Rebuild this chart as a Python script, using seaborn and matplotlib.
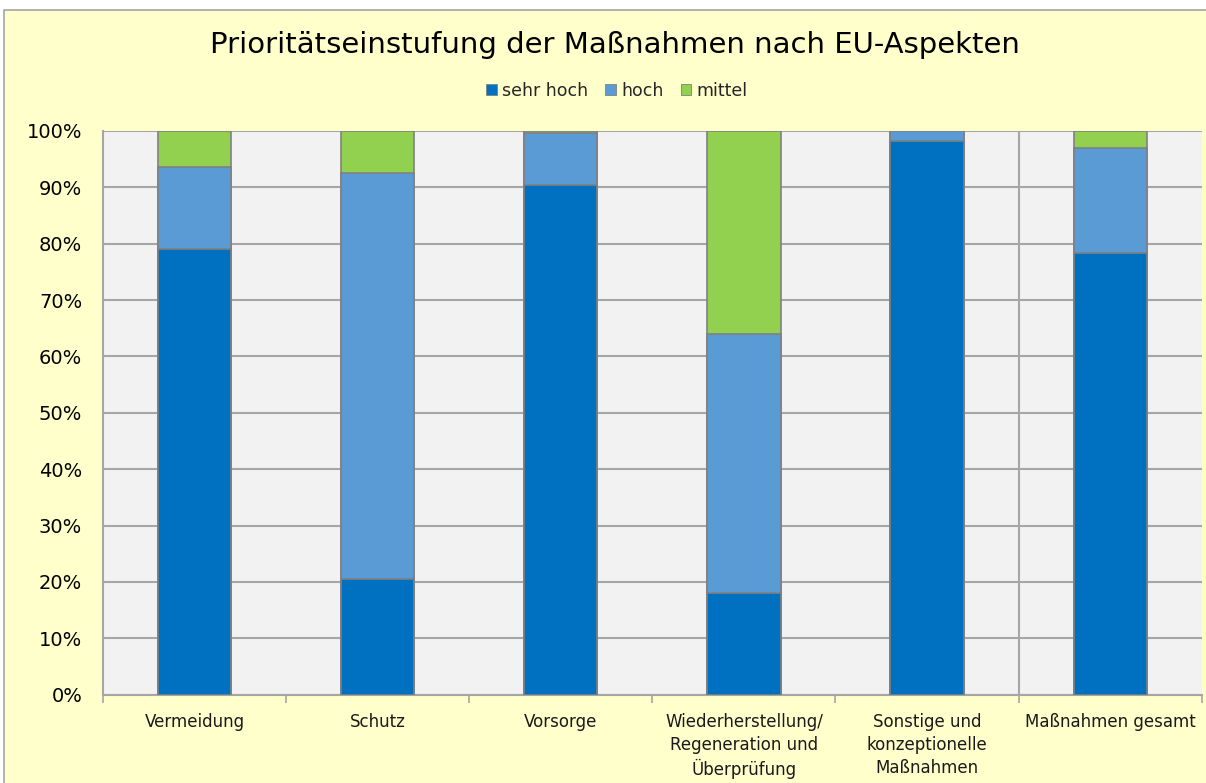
import matplotlib
matplotlib.use("Agg")
import matplotlib.pyplot as plt
from matplotlib.patches import Rectangle, Patch
from matplotlib.ticker import FixedLocator, PercentFormatter
import pandas as pd
import seaborn as sns

categories = [
    "Vermeidung",
    "Schutz",
    "Vorsorge",
    "Wiederherstellung/\nRegeneration und\nÜberprüfung",
    "Sonstige und\nkonzeptionelle\nMaßnahmen",
    "Maßnahmen gesamt",
]
sehr_hoch = [79.1, 20.5, 90.5, 18.1, 98.2, 78.4]
hoch = [14.5, 72.1, 9.2, 45.8, 1.8, 18.5]
mittel = [6.4, 7.4, 0.3, 36.1, 0.0, 3.1]
series_names = ["sehr hoch", "hoch", "mittel"]
series_colors = ["#0070C0", "#5B9BD5", "#92D050"]

sns.set_theme(style="white")
plt.rcParams["font.family"] = ["DejaVu Sans"]

df = pd.DataFrame({
    "Kategorie": categories,
    "sehr hoch": sehr_hoch,
    "hoch": hoch,
    "mittel": mittel,
})
# cumulative tops for stacking
df["top_sehr_hoch"] = df["sehr hoch"]
df["top_hoch"] = df["sehr hoch"] + df["hoch"]
df["top_mittel"] = df["top_hoch"] + df["mittel"]

fig = plt.figure(figsize=(12.06, 7.83), dpi=100, facecolor="white")
# chart area background with thin frame
fig.patches.append(Rectangle((4 / 1206, -0.01), 1.02, 1 - 10 / 783 + 0.01,
                             transform=fig.transFigure, facecolor="#FFFFCC",
                             edgecolor="#A6A6A6", linewidth=1.2, zorder=-10))

ax = fig.add_axes([103 / 1206, (783 - 694.7) / 783,
                   (1201.7 - 103) / 1206, (694.7 - 131) / 783])
ax.set_facecolor("#F2F2F2")

edge = "#808080"
for col, color in zip(["top_mittel", "top_hoch", "top_sehr_hoch"],
                      series_colors[::-1]):
    sns.barplot(data=df, x="Kategorie", y=col, color=color, width=0.4,
                edgecolor=edge, linewidth=1.2, saturation=1, ax=ax, zorder=3)

ax.set_xlim(-0.5, len(categories) - 0.5)
ax.set_ylim(0, 100)
ax.yaxis.set_major_locator(FixedLocator(range(0, 101, 10)))
ax.yaxis.set_major_formatter(PercentFormatter(decimals=0))
ax.grid(axis="y", color="#A6A6A6", linewidth=1.5, zorder=0)
ax.set_axisbelow(True)
ax.axvline(4.5, color="#A6A6A6", linewidth=1.5, zorder=1)

ax.set_xlabel("")
ax.set_ylabel("")
ax.tick_params(axis="y", length=0, labelsize=14, labelcolor="black", pad=15)
ax.tick_params(axis="x", which="major", length=0, labelsize=12,
               labelcolor="#1a1a1a", pad=13)
ax.set_xticks(range(len(categories)))
ax.set_xticklabels(categories, linespacing=1.35, va="top")
ax.set_xticks([i - 0.5 for i in range(len(categories) + 1)], minor=True)
ax.tick_params(axis="x", which="minor", length=6, width=1.2, color="#A6A6A6",
               direction="out", bottom=True)

for side in ["top", "right"]:
    ax.spines[side].set_visible(False)
for side in ["left", "bottom"]:
    ax.spines[side].set_color("#A6A6A6")
    ax.spines[side].set_linewidth(1.5)

fig.text(615 / 1206, 1 - 45 / 783,
         "Prioritätseinstufung der Maßnahmen nach EU-Aspekten",
         ha="center", va="center", fontsize=21, color="black")

handles = [Patch(facecolor=c, edgecolor="#808080", linewidth=0.6)
           for c in series_colors]
fig.legend(handles, series_names, loc="center",
           bbox_to_anchor=(617 / 1206, 1 - 91 / 783), ncol=3, frameon=False,
           fontsize=12.5, handlelength=0.6, handleheight=0.6, handletextpad=0.3,
           columnspacing=1.0)

fig.savefig("out.png", dpi=100, facecolor=fig.get_facecolor())
